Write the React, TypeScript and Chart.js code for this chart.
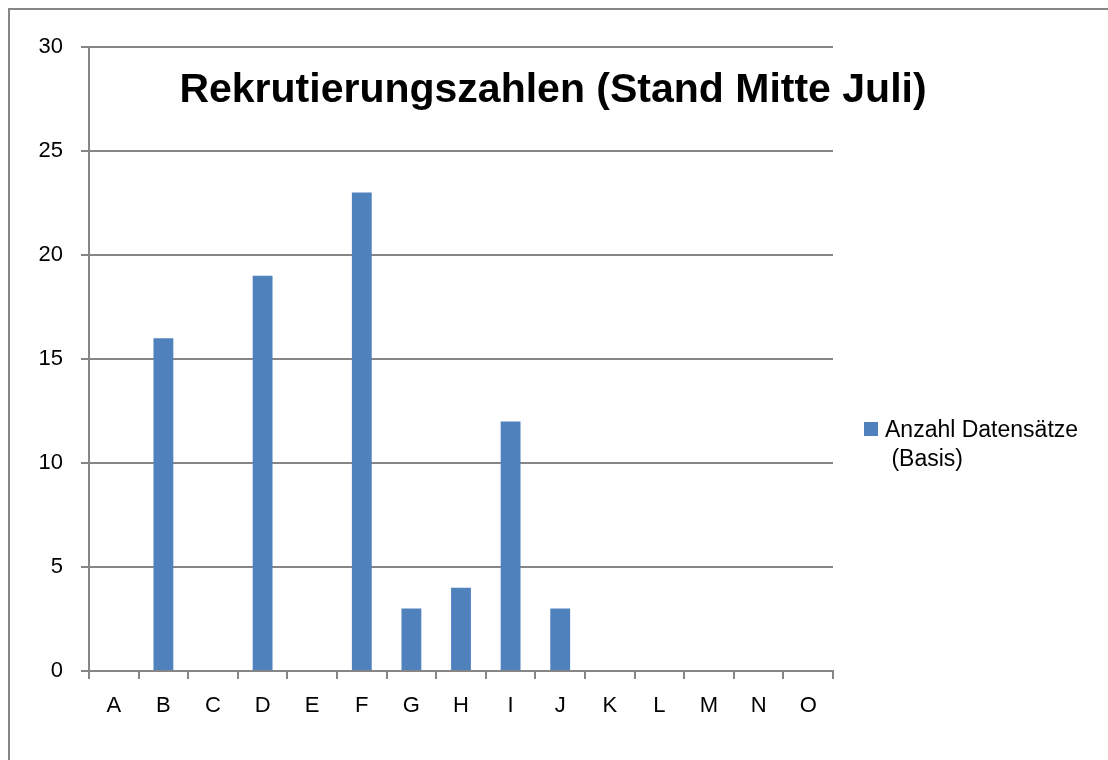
import React, { useEffect, useRef } from "react";
import { Chart, registerables } from "chart.js";

Chart.register(...registerables);

const categories = ["A", "B", "C", "D", "E", "F", "G", "H", "I", "J", "K", "L", "M", "N", "O"];
const values = [0, 16, 0, 19, 0, 23, 3, 4, 12, 3, 0, 0, 0, 0, 0];
const yMin = 0;
const yMax = 30;
const yStep = 5;
const chartTitle = "Rekrutierungszahlen (Stand Mitte Juli)";
const seriesLabel = "Anzahl Datensätze (Basis)";

const FONT = "'Liberation Sans', Arial, sans-serif";
const GRID = "#868686";
const BAR = "#4F81BD";

const decor = {
  id: "decor",
  beforeDraw(chart: any) {
    const ctx = chart.ctx;
    ctx.save();
    ctx.fillStyle = "#ffffff";
    ctx.fillRect(0, 0, chart.width, chart.height);
    ctx.strokeStyle = GRID;
    ctx.lineWidth = 2;
    ctx.strokeRect(9, 9, chart.width + 100, chart.height + 100);
    ctx.restore();
  },
  afterDraw(chart: any) {
    const ctx = chart.ctx;
    ctx.save();
    // title
    ctx.fillStyle = "#000";
    ctx.font = `bold 41px ${FONT}`;
    ctx.textAlign = "center";
    ctx.textBaseline = "alphabetic";
    ctx.fillText(chartTitle, 553, 102);
    // legend
    const ds = chart.data.datasets[0];
    const label: string = ds.label;
    const idx = label.indexOf(" (");
    const lines = idx >= 0 ? [label.slice(0, idx), " " + label.slice(idx + 1)] : [label];
    ctx.fillStyle = ds.backgroundColor;
    ctx.fillRect(864, 422, 14, 14);
    ctx.fillStyle = "#000";
    ctx.font = `23px ${FONT}`;
    ctx.textAlign = "left";
    lines.forEach((ln, i) => ctx.fillText(ln, 885, 437 + i * 29));
    ctx.restore();
  },
};

export default function App() {
  const ref = useRef<HTMLCanvasElement>(null);
  useEffect(() => {
    if (!ref.current) return;
    const chart = new Chart(ref.current, {
      type: "bar",
      data: {
        labels: categories,
        datasets: [
          {
            label: seriesLabel,
            data: values,
            backgroundColor: BAR,
            borderWidth: 0,
            barPercentage: 0.4,
            categoryPercentage: 1,
          },
        ],
      },
      options: {
        animation: false,
        responsive: true,
        maintainAspectRatio: false,
        layout: { padding: { top: 47, right: 275, bottom: 0, left: 0 } },
        plugins: {
          legend: { display: false },
          title: { display: false },
          tooltip: { enabled: false },
        },
        scales: {
          x: {
            afterFit: (s: any) => {
              s.height = 89;
            },
            grid: {
              offset: true,
              drawOnChartArea: false,
              drawTicks: true,
              tickLength: 8,
              color: GRID,
              lineWidth: 2,
            },
            border: { display: true, color: GRID, width: 2 },
            ticks: { color: "#000", font: { family: FONT, size: 22 }, padding: 14 },
          },
          y: {
            min: yMin,
            max: yMax,
            afterFit: (s: any) => {
              s.width = 89;
            },
            grid: { color: GRID, lineWidth: 2, tickLength: 8, drawTicks: true },
            border: { display: true, color: GRID, width: 2 },
            ticks: { stepSize: yStep, color: "#000", font: { family: FONT, size: 22 }, padding: 18 },
          },
        },
      },
      plugins: [decor],
    });
    return () => chart.destroy();
  }, []);
  return (
    <div style={{ position: "absolute", left: 0, top: 0, width: 1108, height: 760 }}>
      <canvas ref={ref} />
    </div>
  );
}
